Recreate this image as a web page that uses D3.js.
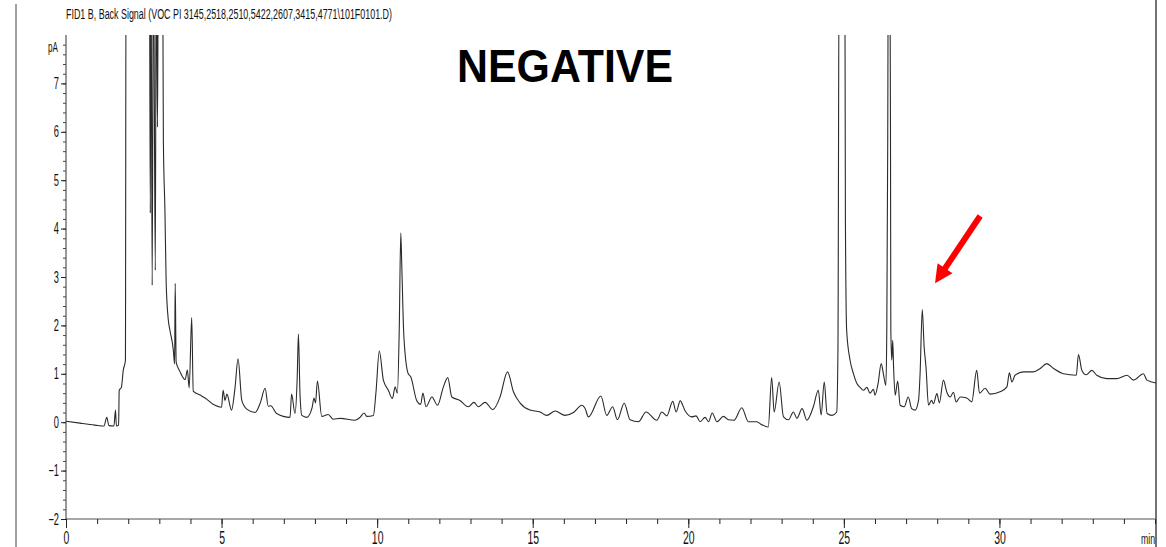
<!DOCTYPE html>
<html>
<head>
<meta charset="utf-8">
<script src="https://cdn.jsdelivr.net/npm/d3@7"></script>
<style>
  body { margin: 0; background: #fff; }
  svg { display: block; }
</style>
</head>
<body>
<script>
// retention time (min) and detector signal (pA)
var times = [0.00,0.45,0.93,1.22,1.31,1.38,1.54,1.59,1.62,1.69,1.71,1.78,1.84,1.91,1.93,
  2.68,2.71,2.73,2.77,2.81,2.87,2.90,2.94,2.97,3.10,3.12,3.13,3.18,3.22,3.29,3.34,3.45,3.49,3.51,3.54,3.66,3.83,3.90,3.96,4.04,4.09,4.31,4.47,4.73,
  5.00,5.05,5.11,5.17,5.32,5.43,5.53,5.65,5.81,6.08,6.24,6.40,6.50,6.58,6.77,7.20,7.25,7.36,7.43,7.47,7.52,7.58,7.74,7.91,7.97,8.02,8.08,8.22,8.43,8.59,8.81,9.29,9.45,9.58,9.67,9.88,9.96,
  10.07,10.20,10.36,10.49,10.58,10.65,10.71,10.76,10.79,10.86,11.00,11.08,11.27,11.40,11.47,11.57,11.76,11.94,12.13,12.27,12.40,12.66,12.93,13.11,13.25,13.47,13.72,13.95,14.19,14.38,14.59,14.91,
  15.24,15.45,15.72,16.04,16.31,16.58,16.68,16.79,17.19,17.38,17.57,17.72,17.94,18.13,18.40,18.64,18.99,19.15,19.31,19.50,19.61,19.74,19.90,
  20.11,20.25,20.38,20.54,20.65,20.77,20.92,21.13,21.29,21.47,21.72,21.93,22.20,22.31,22.57,22.68,22.76,22.92,23.06,23.22,23.38,23.49,23.66,23.81,24.02,24.18,24.27,24.37,24.46,24.62,24.77,24.81,24.85,
  25.03,25.05,25.09,25.20,25.31,25.42,25.52,25.63,25.74,25.84,25.95,26.00,26.10,26.20,26.27,26.35,26.38,26.41,26.43,26.48,26.50,26.51,26.54,26.57,26.60,26.65,26.73,26.81,26.94,27.07,27.18,27.29,27.40,27.45,27.52,27.58,27.64,27.72,27.82,27.88,27.99,28.07,28.20,28.31,28.42,28.52,28.61,28.74,28.95,29.11,29.27,29.36,29.54,29.70,
  30.02,30.24,30.32,30.40,30.50,30.77,31.09,31.31,31.52,31.74,32.06,32.47,32.54,32.65,32.79,32.97,33.13,33.45,33.77,34.10,34.31,34.63,34.74,35.04];

var signal = [0.02,-0.02,-0.06,-0.08,0.10,-0.07,-0.08,0.25,-0.08,-0.06,0.66,0.72,1.07,1.28,10,
  10,4.32,10,2.83,10,3.14,10,6.1,10,10,7.4,5.8,4.36,2.87,2.1,1.9,1.49,1.2,2.87,1.24,1.05,0.88,1.08,0.71,2.16,0.64,0.56,0.5,0.37,
  0.31,0.66,0.45,0.58,0.25,0.7,1.31,0.45,0.27,0.2,0.39,0.7,0.33,0.34,0.18,0.1,0.58,0.18,0.9,1.82,0.6,0.14,0.1,0.3,0.5,0.4,0.85,0.12,0.16,0.06,0.08,0.04,0.1,0.19,0.12,0.14,0.6,
  1.47,0.87,0.66,0.49,0.73,0.6,1.9,3.91,3.28,1.76,1.0,0.94,0.45,0.37,0.6,0.32,0.52,0.35,0.73,0.92,0.52,0.45,0.32,0.41,0.32,0.41,0.26,0.52,1.04,0.63,0.4,0.25,
  0.21,0.14,0.23,0.14,0.2,0.35,0.29,0.11,0.54,0.14,0.32,0.05,0.39,0.05,0.01,0.21,0.04,0.21,0.13,0.43,0.21,0.44,0.23,
  0.11,0.13,0.01,0.1,0.01,0.19,0.01,0.12,0.05,0.04,0.3,0.01,0.01,-0.03,-0.1,0.92,0.21,0.83,0.11,0.05,0.21,0.08,0.28,0.04,0.32,0.66,0.15,0.83,0.18,0.14,0.21,1.49,10,
  10,4.17,1.9,1.28,1.0,0.8,0.72,0.66,0.72,0.6,0.68,0.56,0.8,1.21,1.0,0.76,1.9,5.8,10,10,5.5,1.9,1.28,1.69,1.1,0.56,0.85,0.35,0.32,0.52,0.28,0.25,0.45,1.0,2.33,1.56,1.14,0.35,0.45,0.38,0.59,0.4,0.87,0.62,0.52,0.62,0.42,0.52,0.5,0.42,1.07,0.6,0.7,0.58,
  0.63,0.73,1.02,0.83,0.97,1.04,1.04,1.11,1.21,1.11,1.0,0.97,1.4,1.07,0.98,1.07,0.97,0.9,0.9,0.97,0.87,1.0,0.87,0.81];

var xTicks = [0, 5, 10, 15, 20, 25, 30];
var yTicks = [-2, -1, 0, 1, 2, 3, 4, 5, 6, 7];
var title = 'FID1 B, Back Signal (VOC PI 3145,2518,2510,5422,2607,3415,4771\\101F0101.D)';
var stamp = 'NEGATIVE';
// arrow annotation, [min, pA]
var arrowTail = [29.38, 4.26];
var arrowTip = [27.93, 2.87];

var width = 1166;
var height = 547;
var plotLeft = 66, plotRight = 1156, plotTop = 35, plotBottom = 519;
var narrow = 0.58;
var font = '"Liberation Sans", Arial, sans-serif';

var svg = d3.select('body')
    .append('svg')
    .attr('width', width)
    .attr('height', height);

var x = d3.scaleLinear()
    .domain([0, 35])
    .range([plotLeft, 1155]);

var y = d3.scaleLinear()
    .domain([-2, 8])
    .range([plotBottom, plotTop]);

// frame lines
svg.append('line')
    .attr('x1', 16).attr('x2', 16).attr('y1', 4).attr('y2', height)
    .attr('stroke', '#444').attr('stroke-width', 1);
svg.append('line')
    .attr('x1', plotRight).attr('x2', plotRight).attr('y1', 0).attr('y2', height)
    .attr('stroke', '#444').attr('stroke-width', 1.5);

// title
svg.append('text')
    .attr('x', 66)
    .attr('y', 19)
    .attr('font-family', font)
    .attr('font-size', 14)
    .attr('textLength', 326)
    .attr('lengthAdjust', 'spacingAndGlyphs')
    .attr('fill', '#111')
    .text(title);

// signal trace
svg.append('clipPath')
    .attr('id', 'plot')
    .append('rect')
    .attr('x', plotLeft).attr('y', plotTop)
    .attr('width', plotRight - plotLeft).attr('height', plotBottom - plotTop);

var data = d3.zip(times, signal);

var line = d3.line()
    .curve(d3.curveMonotoneX)
    .x(d => x(d[0]))
    .y(d => y(d[1]));

svg.append('path')
    .datum(data)
    .attr('clip-path', 'url(#plot)')
    .attr('fill', 'none')
    .attr('stroke', '#2a2a2a')
    .attr('stroke-width', 1.1)
    .attr('stroke-linejoin', 'round')
    .attr('d', line);

// x axis
var xMinor = svg.append('g')
    .attr('transform', 'translate(0,' + plotBottom + ')')
    .call(d3.axisBottom(x).tickValues(d3.range(0, 36)).tickSize(5).tickFormat(''));
xMinor.select('.domain').attr('stroke', '#8a8a8a').attr('stroke-width', 1.5)
    .attr('d', 'M' + plotLeft + ',0H' + plotRight);
xMinor.selectAll('.tick line').attr('stroke', '#222');

var xAxis = svg.append('g')
    .attr('transform', 'translate(0,' + plotBottom + ')')
    .call(d3.axisBottom(x).tickValues(xTicks).tickSize(9).tickPadding(3).tickFormat(d3.format('d')));
xAxis.select('.domain').remove();
xAxis.selectAll('.tick line').attr('stroke', '#222');
xAxis.selectAll('text')
    .attr('font-family', font)
    .attr('font-size', 18)
    .attr('fill', '#111')
    .attr('transform', 'scale(' + narrow + ',1)');

// y axis
var yMinor = svg.append('g')
    .attr('transform', 'translate(' + plotLeft + ',0)')
    .call(d3.axisLeft(y).tickValues(d3.range(-2, 7.9, 0.2)).tickSize(3).tickFormat(''));
yMinor.select('.domain').attr('stroke', '#333').attr('stroke-width', 1)
    .attr('d', 'M0,' + plotTop + 'V' + plotBottom);
yMinor.selectAll('.tick line').attr('stroke', '#444');

var yAxis = svg.append('g')
    .attr('transform', 'translate(' + plotLeft + ',0)')
    .call(d3.axisLeft(y).tickValues(yTicks).tickSize(5).tickFormat(d3.format('d')));
yAxis.select('.domain').remove();
yAxis.selectAll('.tick line').attr('stroke', '#222');
yAxis.selectAll('text')
    .attr('font-family', font)
    .attr('font-size', 16)
    .attr('fill', '#111')
    .attr('x', -7 / narrow)
    .attr('transform', 'scale(' + narrow + ',1)');

// unit labels
svg.append('text')
    .attr('transform', 'translate(58,' + (y(7.75) + 5) + ') scale(' + narrow + ',1)')
    .attr('text-anchor', 'end')
    .attr('font-family', font)
    .attr('font-size', 14)
    .attr('fill', '#111')
    .text('pA');

svg.append('text')
    .attr('transform', 'translate(1155,544) scale(' + narrow + ',1)')
    .attr('text-anchor', 'end')
    .attr('font-family', font)
    .attr('font-size', 15)
    .attr('fill', '#111')
    .text('min');

// big label
svg.append('text')
    .attr('x', 457)
    .attr('y', 82)
    .attr('font-family', font)
    .attr('font-weight', 'bold')
    .attr('font-size', 46)
    .attr('textLength', 216)
    .attr('lengthAdjust', 'spacingAndGlyphs')
    .attr('fill', '#000')
    .text(stamp);

// red arrow
var tx = x(arrowTail[0]), ty = y(arrowTail[1]);
var hx = x(arrowTip[0]), hy = y(arrowTip[1]);
var ang = Math.atan2(hy - ty, hx - tx);
var headLen = 18, headHalf = 9;
var bx = hx - headLen * Math.cos(ang), by = hy - headLen * Math.sin(ang);
var px = -Math.sin(ang), py = Math.cos(ang);

svg.append('line')
    .attr('x1', tx).attr('y1', ty)
    .attr('x2', bx + 2 * Math.cos(ang)).attr('y2', by + 2 * Math.sin(ang))
    .attr('stroke', '#ff0000')
    .attr('stroke-width', 6);

svg.append('path')
    .attr('d', 'M' + hx + ',' + hy +
        'L' + (bx + headHalf * px) + ',' + (by + headHalf * py) +
        'L' + (bx - headHalf * px) + ',' + (by - headHalf * py) + 'Z')
    .attr('fill', '#ff0000');
</script>
</body>
</html>
